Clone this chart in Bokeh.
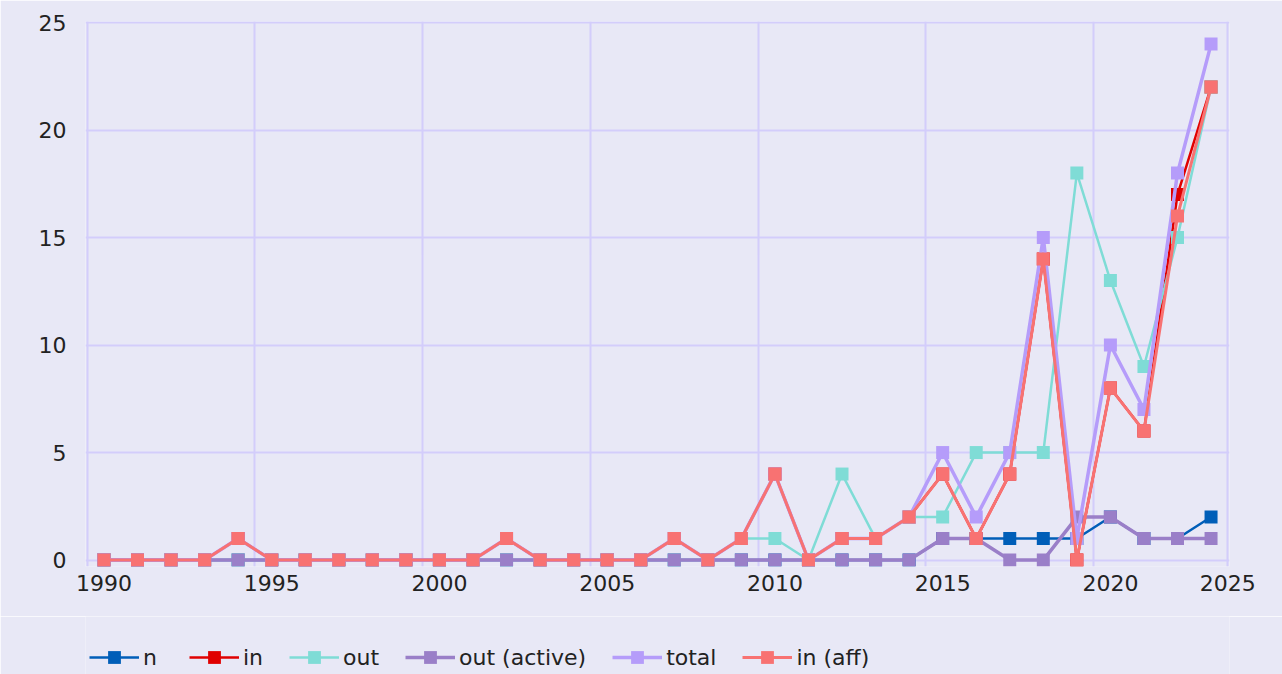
from bokeh.plotting import figure
from bokeh.layouts import column
from bokeh.models import FixedTicker, Legend, LegendItem, Range1d
from bokeh.embed import file_html
from bokeh.resources import INLINE

years = [1990, 1991, 1992, 1993, 1994, 1995, 1996, 1997, 1998, 1999,
         2000, 2001, 2002, 2003, 2004, 2005, 2006, 2007, 2008, 2009,
         2010, 2011, 2012, 2013, 2014, 2015, 2016, 2017, 2018, 2019,
         2020, 2021, 2022, 2023]

n_vals = [0, 0, 0, 0, 0, 0, 0, 0, 0, 0, 0, 0, 0, 0, 0, 0, 0, 0, 0, 0,
          0, 0, 0, 0, 0, 1, 1, 1, 1, 1, 2, 1, 1, 2]
in_vals = [0, 0, 0, 0, 1, 0, 0, 0, 0, 0, 0, 0, 1, 0, 0, 0, 0, 1, 0, 1,
           4, 0, 1, 1, 2, 4, 1, 4, 14, 0, 8, 6, 17, 22]
out_vals = [0, 0, 0, 0, 0, 0, 0, 0, 0, 0, 0, 0, 0, 0, 0, 0, 0, 0, 0, 1,
            1, 0, 4, 1, 2, 2, 5, 5, 5, 18, 13, 9, 15, 22]
out_active_vals = [0, 0, 0, 0, 0, 0, 0, 0, 0, 0, 0, 0, 0, 0, 0, 0, 0, 0, 0, 0,
                   0, 0, 0, 0, 0, 1, 1, 0, 0, 2, 2, 1, 1, 1]
total_vals = [0, 0, 0, 0, 1, 0, 0, 0, 0, 0, 0, 0, 1, 0, 0, 0, 0, 1, 0, 1,
              4, 0, 1, 1, 2, 5, 2, 5, 15, 1, 10, 7, 18, 24]
in_aff_vals = [0, 0, 0, 0, 1, 0, 0, 0, 0, 0, 0, 0, 1, 0, 0, 0, 0, 1, 0, 1,
               4, 0, 1, 1, 2, 4, 1, 4, 14, 0, 8, 6, 16, 22]

series_names = ["n", "in", "out", "out (active)", "total", "in (aff)"]
series_values = [n_vals, in_vals, out_vals, out_active_vals, total_vals, in_aff_vals]
series_colors = ["#005EB8", "#E00000", "#7FDCD6", "#9A7FC8", "#B59CFA", "#F87272"]
series_widths = [2.5, 2.5, 2.5, 3.5, 3.5, 3.0]

x_tick_values = [1990, 1995, 2000, 2005, 2010, 2015, 2020, 2023.5]
x_tick_labels = ["1990", "1995", "2000", "2005", "2010", "2015", "2020", "2025"]
x_grid_values = [1989.5, 1994.5, 1999.5, 2004.5, 2009.5, 2014.5, 2019.5, 2023.5]
y_tick_values = [0, 5, 10, 15, 20, 25]

BG = "#E8E8F6"
GRID = "#D3CDFB"
TXT = "#222222"
FONT = "DejaVu Sans"

# main chart
p = figure(width=1282, height=616,
           min_border_left=85, min_border_right=53, min_border_top=21, min_border_bottom=50,
           x_range=Range1d(1989.45, 2023.55), y_range=Range1d(-0.3, 25.05),
           output_backend="svg", toolbar_location=None)
p.background_fill_color = BG
p.border_fill_color = BG
p.outline_line_color = None

p.xgrid.ticker = FixedTicker(ticks=x_grid_values)
p.ygrid.ticker = FixedTicker(ticks=y_tick_values)
for g in (p.xgrid, p.ygrid):
    g.grid_line_color = GRID
    g.grid_line_width = 2

p.xaxis.ticker = FixedTicker(ticks=x_tick_values)
p.xaxis.major_label_overrides = {v: l for v, l in zip(x_tick_values, x_tick_labels)}
p.yaxis.ticker = FixedTicker(ticks=y_tick_values)
for ax in (p.xaxis, p.yaxis):
    ax.axis_line_color = None
    ax.major_tick_line_color = None
    ax.minor_tick_line_color = None
    ax.major_tick_out = 0
    ax.major_tick_in = 0
    ax.major_label_text_font = FONT
    ax.major_label_text_font_size = "22px"
    ax.major_label_text_color = TXT
p.xaxis.major_label_standoff = 8
p.yaxis.major_label_standoff = 19

for name, vals, col, w in zip(series_names, series_values, series_colors, series_widths):
    p.line(years, vals, line_color=col, line_width=w)
    p.scatter(years, vals, marker="square", size=13, fill_color=col, line_color=None)

# legend strip below the chart (same series, drawn outside its visible range)
lg = figure(width=1282, height=58, title=None,
            min_border_left=0, min_border_right=0, min_border_top=0, min_border_bottom=0,
            x_range=Range1d(1989.45, 2023.55), y_range=Range1d(1000, 1001),
            x_axis_location=None, y_axis_location=None,
            output_backend="svg", toolbar_location=None)
lg.background_fill_color = BG
lg.border_fill_color = BG
lg.outline_line_color = None
lg.grid.visible = False

items = []
for name, vals, col, w in zip(series_names, series_values, series_colors, series_widths):
    r_line = lg.line(years, vals, line_color=col, line_width=w)
    r_pts = lg.scatter(years, vals, marker="square", size=13, fill_color=col, line_color=None)
    items.append(LegendItem(label=name, renderers=[r_line, r_pts]))

legend = Legend(items=items, orientation="horizontal", location=(4, 1),
                glyph_width=50, glyph_height=32, label_standoff=4, spacing=26,
                padding=0, margin=0,
                label_text_font=FONT, label_text_font_size="22px", label_text_color=TXT,
                background_fill_alpha=0, border_line_color=None)
lg.add_layout(legend)

page = column(p, lg, spacing=0)
open("out.html", "w").write(file_html(page, INLINE))
